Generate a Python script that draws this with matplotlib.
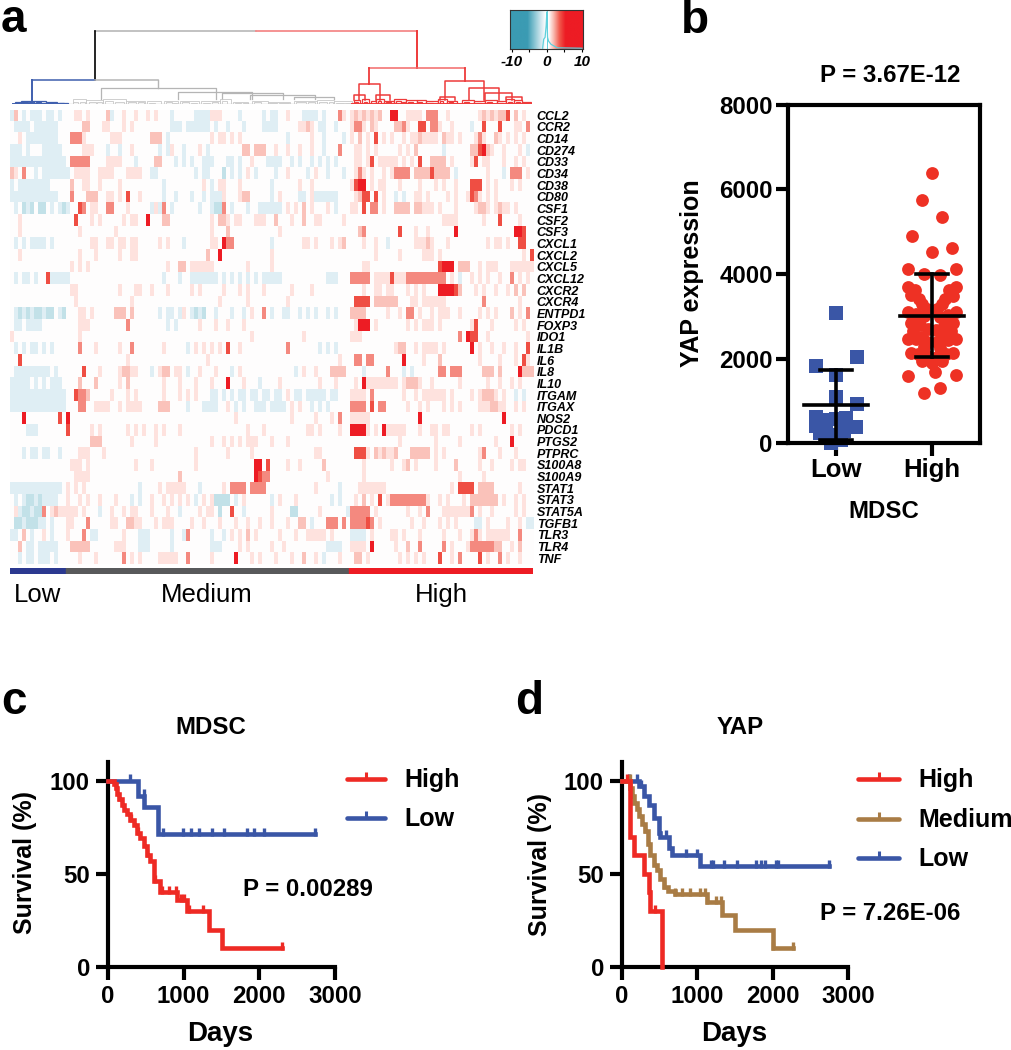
import matplotlib
matplotlib.use("Agg")
import matplotlib.pyplot as plt
import numpy as np
from matplotlib.colors import LinearSegmentedColormap

plt.rcParams['font.family'] = ['Liberation Sans', 'DejaVu Sans']

W, H = 1011, 1050

genes = ["CCL2", "CCR2", "CD14", "CD274", "CD33", "CD34", "CD38", "CD80", "CSF1", "CSF2", "CSF3",
         "CXCL1", "CXCL2", "CXCL5", "CXCL12", "CXCR2", "CXCR4", "ENTPD1", "FOXP3", "IDO1", "IL1B",
         "IL6", "IL8", "IL10", "ITGAM", "ITGAX", "NOS2", "PDCD1", "PTGS2", "PTPRC", "S100A8",
         "S100A9", "STAT1", "STAT3", "STAT5A", "TGFB1", "TLR3", "TLR4", "TNF"]

# heatmap rows, read by eye: low | medium | high columns
# . = 0, a b = blue levels, 1-5 = red levels
rows = [
 "a2.a.aaa.aa.a.|..11.1.... 2a..1..1.. 1.1...a... ..aaaa111. ...a.....a .aa..1...a aaa.a...31 .|12121212.. 55..1111.3 33..1..... ..12121224 .2.1..",
 ".aaaa.aaaaaa..|....22...1 1...1.1.. .......aaa .aaaaaa.a. .a...a.... aaaa.....1 121.aa..a. .|1331.21... .2231..44. 331..1.... a..4...4.. .11.3.1.",
 "..1.aaaaaaaa..|.3331..... .111...... .222.a.... ......1.11 .1.1...... .....a.... .1..a....a .|1.2.1.4.1. 1..1.11211 11.211.1.. .131..21.1 .1.1..",
 "aaa.a...aaaaa.|....111... a..a..1... ...a.a1..a ...1.a.... ....22.222 ..1..1..1. .1..a...3. .|.11.1.1... ..1.1.2... ...a...... 224521..1. ..1.a.",
 "aaaaaaaaaaaaaa|.33333.... 1111...a.. ..22...a.a .a..aaa... aa.a..1... aaaa..a.a. .a.a.a.a.. .|.11.14.111 11.1.1.4.. 2222.1.... 14.11...1. .1.1.",
 "21.3..a.aaaaaa|a.1111..11 11...1111. .aa....... ..a.aa...b .a.a.1.a.. ..a..1.... a.1..a...a .|.131.1..1. 13333.2222 42222.a... ....1...a. 333.1",
 "a.aaaaaaaa....|.2..11..1. ...1...... ....a..... ....1.a.11 ...1...... .a......1. .1........ .|1455.1.11. ..1....1.. .1.1..1... 444.1.1... 1.1...",
 "aaaaaaaaaaaa..|.3...222.. 11.1.4..1. ....a..a.. .a..a.aaa1 ...122.... .a.1....aa .1aaaaaa.. .|.1244.4.1.. a.a..11.1. ...1.1..14 31.1.1....",
 ".a.bab.bb.a.ab|a..43.11.. 33...1.... .a1a3.a... ...a..abb3 .a...a..aa aaaa.1.1.2 .1...1.a.. .|11.4.33.1. .2222.2211 1.1...1... .1221.1211 .1..",
 "..1...........|..4...1.1. ....1.11.. 5...22.... ......1.22 1.11...111 ..2...1..2 ..11.....1 .|.......... .......... ...1111... ...1...4.. ..1...",
 "..1...........|...1...... ..1....... .......... ......1... 2......... ...1...... .......... .|..23...... ..4...1..1 ......5... .......... .554..",
 ".a.a.aaaa.a...|......11.. 11.11.11.. ...1.1...a ......11.5 33........ .a.......1 1.1...1.12 .|...1..1..a ......1112 1...1..... ....1.11.1 ..44.",
 "..1...........|...1...1.. ...1..11.. .......... .....2..5. .......... .1........ .......... .|......1... ..1.....11 1.1....... .......... ...1.44",
 "..............|.1.1.1.... .......... .....1..22 .111111... .....1.... .1........ .......... .|...11..... .......... ..4555.222 ..1.111... 111111.",
 ".a.aa.a..4aaaa|a......... .......... ....a...a. .aaaaaaa.a .a.a.a.a.a aaaa...... .....aaa.. .|33333.1111 4111333333 3333.1.a.. 1.1.1..1.. 3.1.1",
 "..............|.11....... ...1...11. .1...1.... .1.1.....1 ...1.1...1 ......1... .1........ .|...1..11.1 1...1.1.1. ..555542.. .1.1..1..1 .2.2..",
 "..............|..1....... ......1... .......... ........1. .....1.... .....1.... .......... .|.4444.2222 22...11.11 1111...... ...3...... ..1...",
 ".abababbabb.ab|...11.1... ..222.2... ...a.aa.a1 .abab..a.. .a..a.1..3 .a..aa..a. a.a..a.a.. .|2222.....1 ..1.33.1.. 1.111..1.. ..1.1.1... 2.1.3",
 ".aa.aaaa......|...111.... .....3.... .....a.a.. ...1...1.. 1...1..... .......... .......... .|.1555.1... ....1.1.11 1.1....... 14...1.... .1.1..",
 "1.............|...1...... .......... .......... .......... ......1... .........1 .......... .|111....... .......... .......3.5 44..1..... ....1.",
 ".a.a.aa.a.a...|...3...1.. ...1..3... ....1..... a.1.1.1.1. 4..1...... .....3.... ...a.a.a.. .|.......... .122..1.11 11.1...... 5.1..1..1. .1..4.",
 "..4...........|.......... .....1.... .......... .....1.... .......... .......... ........1. .|.33.33.... ...5....1. ..2....... ..1....1.. .1.41.",
 ".aaaaaaaaa.a..|....4...1. ...12211.. .a.122.11. a..1...1.. .a.1...... .......a.1 ..1...2222 .|...a.....3 ...a.a.... ..33.333.. ...222.2.. ..5222.",
 "aaaaa.a.a.aaa.|...2...2.. ...1.2.... ....1...1. ..1...1... 5...1...a. ...1...... ...1...1.. .|.1.5111111 11.12221.. 1......1.. ....1..1.. 1.1.",
 "aaaaaaaaaaaaaa|..4332.... .1...1.1.. ....1...1. 1.1...aa.a .a.aa.aa.a a.aa.1.aa. aaaaa.aa.. .|1111.3.... ...1..1.11 1111.1.... 1.12221.1. .a.a..",
 "aaaaaaaaaaaaaa|...33..111 1..1.1111. ...222.... a...aaaa.. 1.a.a..aaa .aaaa.1.1. .a.a.a.... .|3333.4.33. ....1..1.1 ...1.1.1.. ..1112211. .1.1.",
 "...5........4.|5......... .......... .......... .......... ..1....... ......1... ..1...1.3. .|11111..... .......5.. .......... ........5. .....",
 "....aaa.......|4.....1.1. .....1.1.1 ..1.1...1. .......... .....1...1 .......... 11.1....1. .|55551.1.51 1111...1.. 11.11..... 1.1....... 1.1...",
 "..............|......222. ......1... ..1....... ......1..1 .1.1.111.. .1...1.... .......... .....4.333 .33.|.......... ..1....... .1.....1.. ......1...5. ...",
 "...a.aa.aa..a.|...111...1 .......... .......... ..1....... 1.....1... .......... ..11...... .|.4441.2121 12...22222 .1.1...... ..13...1.. .1....",
 "..............|.111.1.... .......1.. .1........ ..1....... .......55. 4....1..1. ....2..... .1.|...1...... 1..12.1... .1....2... ..1..1.... 1.11.",
 "..............|..1111.... .......... ........2. .......... .......543 3......... .....1.... .....1.. .222.|...1...... .......... .......1.. ...1...... ...",
 "aaaaaaaaaaaaa.|1.1.1..... ........a. ...1.11111 ...a.....1 .3333.3333 .......... ..1.....a. .|..1111111. .......... .....1.4 444.2222.. ....1.",
 ".a.abbabaaaa..|1..1.1..1. ..1...a.a. .1..1.1.1. 1.a.1.1bbb b.a.1..... .a.1...1.. ......a.a. .|.1.2.1.4.1 3333333331 ..1.1...1. 2222222.1. .1.1.",
 ".1abbabb3.1211|111.1...a. .1..1.11.. .1...1..a. ...1.11.b. .4..a..... .1....bb.. ...1...... aa.|33333.1... ....1..1.3 ...1111111 3.1..1.... .1.1.",
 ".bbabbbaa.a...|11...3.... .11..2211. ..1.111... .1..1...1. ..1..1..1. .1...1..22 .a...333.3 .|333343.1.. .....1..1. ..1.1.1... .aa.1....1 ..1.aa.",
 "aa.2.a..1.a...|1...3.aa.. ....1...aa a.....a..a 3.....a..a .1.1.2.1.. ...1...1.. 11111.1... .1.|aaaa.1.... 11.1...1.. ...1...1.. 131.111111 ..3.",
 "..2.aa.aaaaa..|.22222.... ..111...aa a.....a... ......aaa. ...1.1.... .1..1..... .....aaaa. .|1111.5.... .1..2..3.. ...3.1...1 33333322.. 1.2.",
 "..a.aa.aaa.a..|...1...1.. ....3.1.1. ...11111.. 3.....1... ..5...1.1. ..1...1..2 ..1.a...1. .|.22.1..... ..1.1.1.1. ..4..1.3.. ..4.1..3.1 ..1.",
]

level_values = {".": 0, "a": -1.5, "b": -3, "1": 1, "2": 2.2, "3": 4, "4": 6.5, "5": 10}
low_cols, med_cols, high_cols = 14, 71, 46

# dendrogram, x in column units of the crop, height above the leaves
root_x = [249, 1092]
root_h = 220
low_node = (83, 414, 72)
right_node = (966, 1217, 107)
grey_nodes = [(263, 565, 47), (466, 660, 37), (580, 740, 32), (655, 825, 27), (770, 875, 20)]
red_nodes = [(940, 993, 60), (925, 955, 27), (985, 1020, 27), (1165, 1267, 69), (1228, 1305, 47),
             (1270, 1340, 32), (1150, 1190, 22), (1325, 1365, 22)]
grey_leaves = [(190, 225, 15), (225, 270, 12), (270, 330, 15), (330, 380, 10), (385, 420, 8), (430, 465, 10),
               (470, 520, 9), (525, 575, 8), (575, 605, 14), (610, 650, 7), (660, 700, 9), (700, 760, 7),
               (770, 830, 10), (830, 875, 13), (875, 920, 8),
               (190, 205, 7), (210, 222, 5), (232, 250, 6), (255, 268, 5), (275, 295, 8), (300, 325, 7),
               (335, 355, 5), (360, 378, 6), (390, 405, 4), (435, 450, 6), (452, 462, 4), (475, 495, 5),
               (500, 515, 4), (530, 550, 4), (555, 570, 5), (580, 595, 8), (615, 630, 4), (635, 648, 3),
               (665, 682, 5), (705, 725, 4), (730, 755, 4), (775, 800, 5), (805, 825, 5), (835, 855, 7),
               (860, 872, 6), (880, 900, 4), (902, 918, 3)]
red_leaves = [(925, 942, 12), (948, 965, 14), (970, 985, 10), (985, 1005, 14), (1005, 1030, 10), (1030, 1062, 14),
              (1062, 1090, 12), (1090, 1115, 11), (1115, 1145, 8), (1145, 1170, 14), (1170, 1195, 10),
              (1210, 1240, 12), (1240, 1270, 9), (1270, 1300, 11), (1300, 1325, 9), (1325, 1345, 14),
              (1345, 1365, 12), (1365, 1390, 7),
              (928, 936, 6), (952, 960, 7), (990, 998, 8), (1010, 1022, 5), (1035, 1048, 8), (1052, 1060, 5),
              (1068, 1080, 6), (1095, 1105, 5), (1120, 1132, 4), (1150, 1160, 8), (1175, 1186, 5), (1215, 1228, 6),
              (1245, 1258, 4), (1275, 1288, 6), (1305, 1316, 4), (1330, 1340, 7), (1350, 1360, 6), (1370, 1382, 4)]
blue_leaves = [(40, 60, 7), (55, 90, 10), (90, 120, 8), (120, 150, 6), (150, 178, 4),
               (42, 50, 4), (60, 72, 6), (76, 86, 5), (95, 108, 5), (110, 118, 3), (125, 138, 4), (155, 168, 3)]

# panel b
low_offset = [0, .22, -.21, 0, 0, .22, -.21, -.1, .1, 0, -.21, -.1, .1, .21, -.17, 0, -.08, .05, -.05, .08]
low_values = [3080, 2040, 1820, 1600, 1090, 930, 610, 550, 590, 560, 400, 370, 420, 370, 230, 200, 170, 60, 10, 280]
high_offset = [0, -.1, .1, -.21, .21, 0, -.25, .25, -.08, .08, -.25, .25, -.18, .18, -.22, .22, -.14, .14, -.1, .1,
               -.05, .05, -.25, .25, -.17, .17, -.08, .08, -.22, .22, -.12, .12, -.04, .04, -.2, .2, -.1, .1,
               -.25, .25, -.17, .17, -.05, .05, -.08, .08, -.22, .22, -.15, .15, -.05, .05, -.1, .1, 0, .03,
               -.25, .25, -.08, .08]
high_values = [6380, 5760, 5360, 4890, 4620, 4520, 4120, 4120, 4000, 3980, 3700, 3700, 3620, 3620, 3500, 3480, 3400,
               3400, 3280, 3280, 3180, 3180, 3100, 3100, 3050, 3030, 3000, 2980, 2850, 2850, 2800, 2780, 2700, 2680,
               2650, 2650, 2520, 2520, 2470, 2470, 2450, 2430, 2400, 2380, 2280, 2260, 2130, 2130, 2100, 2100, 2060,
               2040, 1950, 1940, 1900, 1690, 1580, 1600, 1180, 1290]
low_stats = (900, 70, 1730)
high_stats = (3010, 2030, 4000)

# panel c
c_high_days = [0, 75, 100, 119, 150, 180, 210, 250, 290, 339, 383, 420, 470, 515, 560, 603, 612, 690, 910, 1043, 1329, 1505, 2296]
c_high_surv = [100, 98, 96, 93, 90, 87, 84, 82, 79, 76, 72, 69, 65, 60, 57, 54, 46, 40, 36, 30, 20, 10, 10]
c_high_cens = [100, 150, 300, 400, 520, 620, 720, 800, 900, 960, 1000, 1070, 1250, 2296]
c_low_days = [0, 392, 480, 655, 2736]
c_low_surv = [100, 92, 86, 71.5, 71.5]
c_low_cens = [295, 470, 727, 991, 1096, 1206, 1373, 1535, 1843, 1931, 2063, 2736]

# panel d
d_high_days = [0, 110, 154, 287, 353, 375, 529, 529]
d_high_surv = [100, 70, 60, 50, 40, 30, 0, 0]
d_high_cens = [60, 440]
d_med_days = [0, 110, 130, 155, 200, 230, 265, 300, 340, 370, 420, 470, 510, 560, 610, 700, 1130, 1325, 1500, 2005, 2270]
d_med_surv = [100, 96, 92, 88, 85, 81, 77, 73, 66, 60, 55, 52, 47, 43, 41, 39, 35, 28, 20, 10, 10]
d_med_cens = [100, 300, 420, 560, 700, 800, 900, 1030, 1100, 1130, 1250, 1320, 2005, 2270]
d_low_days = [0, 220, 290, 355, 420, 490, 510, 620, 660, 1040, 2745]
d_low_surv = [100, 97, 92, 87, 80, 72, 70, 64, 60, 54, 54]
d_low_cens = [90, 200, 250, 580, 850, 1000, 1180, 1210, 1360, 1530, 1780, 1840, 1900, 2050, 2070, 2745]

heat_cmap = LinearSegmentedColormap.from_list("heat", [
    (0.00, "#3b9bb3"), (0.10, "#3b9bb3"), (0.25, "#8cc6d4"), (0.35, "#c3e2e9"), (0.425, "#e0eff5"), (0.47, "#ffffff"),
    (0.50, "#ffffff"), (0.55, "#fee2de"), (0.61, "#fbc4bc"), (0.70, "#f58a80"), (0.825, "#f04f44"), (1.00, "#ed1c24")])
key_cmap = LinearSegmentedColormap.from_list("key", [
    (0.00, "#3b9bb3"), (0.24, "#3b9bb3"), (0.34, "#8cc6d4"), (0.44, "#dcedf3"), (0.49, "#ffffff"),
    (0.53, "#ffffff"), (0.60, "#f9b8ae"), (0.68, "#f1584c"), (0.76, "#ed1c24"), (1.00, "#ed1c24")])

RED = "#ee2a24"
BLUE = "#3a56a6"
BROWN = "#a97c45"


def add_ax(fig, left, top, right, bottom):
    return fig.add_axes([left / W, 1 - bottom / H, (right - left) / W, (bottom - top) / H])


def value_at(days, surv, t):
    i = np.searchsorted(days, t, side="right") - 1
    return np.array(surv)[i]


def survival_axes(ax):
    ax.set_xlim(0, 3000)
    ax.set_ylim(0, 110)
    ax.set_xticks([0, 1000, 2000, 3000])
    ax.set_yticks([0, 50, 100])
    ax.patch.set_alpha(0)
    for s in ["top", "right"]:
        ax.spines[s].set_visible(False)
    for s in ["left", "bottom"]:
        ax.spines[s].set_linewidth(3)
    ax.tick_params(width=3, length=9, labelsize=17.3, pad=4)
    for lab in ax.get_xticklabels() + ax.get_yticklabels():
        lab.set_fontweight("bold")


def km_curve(ax, days, surv, cens, color):
    ax.step(days, surv, where="post", color=color, lw=3.3, clip_on=False, solid_joinstyle="miter", zorder=3)
    ax.plot(cens, [value_at(days, surv, t) + 1.2 for t in cens], ls="", marker="|", ms=5.5, mew=2.4, color=color,
            clip_on=False, zorder=3)


fig = plt.figure(figsize=(W / 100, H / 100), dpi=100)

# a: heatmap
matrix = []
for row in rows:
    parts = row.replace(" ", "").split("|")
    text = parts[0].ljust(low_cols, ".")[:low_cols] + parts[1].ljust(med_cols, ".")[:med_cols] + parts[2].ljust(high_cols, ".")[:high_cols]
    matrix.append([level_values[ch] for ch in text])
matrix = np.array(matrix)

ax_heat = add_ax(fig, 10, 109.5, 534, 564)
ax_heat.imshow(matrix, cmap=heat_cmap, vmin=-10, vmax=10, aspect="auto", interpolation="nearest")
ax_heat.set_xticks([])
ax_heat.yaxis.tick_right()
ax_heat.set_yticks(range(len(genes)))
ax_heat.set_yticklabels(genes, fontsize=9, fontweight="bold", fontstyle="italic")
ax_heat.tick_params(axis="y", length=0, pad=2)
for s in ax_heat.spines.values():
    s.set_visible(False)

# a: group bar
ax_bar = add_ax(fig, 10, 568, 532, 573)
ax_bar.broken_barh([(0, low_cols)], (0, 1), color="#2b3990")
ax_bar.broken_barh([(low_cols, med_cols)], (0, 1), color="#58595b")
ax_bar.broken_barh([(low_cols + med_cols, high_cols)], (0, 1), color="#ed1c24")
ax_bar.set_xlim(0, low_cols + med_cols + high_cols)
ax_bar.set_ylim(0, 1)
ax_bar.axis("off")

# a: dendrogram
ax_den = add_ax(fig, 0, 28, 532, 104)
ax_den.set_xlim(0, 1392)
ax_den.set_ylim(0, 228)
ax_den.axis("off")


def u_shape(ax, x1, x2, h, color, lw):
    ax.plot([x1, x1, x2, x2], [0, h, h, 0], color=color, lw=lw, solid_joinstyle="miter")


GREY_D = "#b5b5b5"
RED_D = "#ee3a3a"
BLUE_D = "#3f5fae"
mid = sum(root_x) / 2
ax_den.plot([root_x[0], mid], [root_h, root_h], color="#bdbdbd", lw=1.3)
ax_den.plot([mid, root_x[1]], [root_h, root_h], color="#f58a8a", lw=1.3)
ax_den.plot([root_x[0], root_x[0]], [root_h, low_node[2]], color="black", lw=1.2)
ax_den.plot([root_x[1], root_x[1]], [root_h, right_node[2]], color=RED_D, lw=1.4)
ax_den.plot([low_node[0], root_x[0]], [low_node[2], low_node[2]], color=BLUE_D, lw=1.1)
ax_den.plot([root_x[0], low_node[1]], [low_node[2], low_node[2]], color=GREY_D, lw=1.1)
ax_den.plot([low_node[0], low_node[0]], [low_node[2], 8], color=BLUE_D, lw=1.4)
ax_den.plot([low_node[1], low_node[1]], [low_node[2], grey_nodes[0][2]], color=GREY_D, lw=1)
ax_den.plot([right_node[0], right_node[1]], [right_node[2], right_node[2]], color="#f26a6a", lw=1.1)
ax_den.plot([right_node[0], right_node[0]], [right_node[2], red_nodes[0][2]], color=RED_D, lw=1.3)
ax_den.plot([right_node[1], right_node[1]], [right_node[2], red_nodes[3][2]], color=RED_D, lw=1.3)

for x1, x2, h in grey_nodes:
    ax_den.plot([x1, x1, x2, x2], [15, h, h, 15], color=GREY_D, lw=0.9)
for x1, x2, h in red_nodes:
    ax_den.plot([x1, x1, x2, x2], [12, h, h, 12], color=RED_D, lw=1.1)
for x1, x2, h in grey_leaves:
    u_shape(ax_den, x1, x2, h, "#c8c8c8", 0.6)
for x1, x2, h in red_leaves:
    u_shape(ax_den, x1, x2, h, RED_D, 0.9)
for x1, x2, h in blue_leaves:
    u_shape(ax_den, x1, x2, h, BLUE_D, 0.9)
ax_den.plot([35, 178], [0, 0], color=BLUE_D, lw=1.4)
ax_den.plot([180, 920], [0, 0], color="#c8c8c8", lw=1)
ax_den.plot([922, 1390], [0, 0], color=RED_D, lw=1.4)

# a: colour key
key_ticks = [-10, 0, 10]
hist_x = [-1.2, -0.9, -0.5, -0.2, 0, 0.2, 0.5, 1.2, 3, 10]
hist_y = [0.02, 0.25, 0.3, 0.6, 0.95, 0.3, 0.2, 0.12, 0.03, 0.02]
ax_key = add_ax(fig, 510, 10, 583, 49)
ax_key.imshow(np.linspace(-10, 10, 256)[None, :], cmap=key_cmap, vmin=-10, vmax=10, aspect="auto", extent=[-10.5, 10.3, 0, 1])
ax_key.plot(hist_x, hist_y, color="#5fd0dc", lw=0.9)
ax_key.plot([0, 0], [0, 1], color="#5fd0dc", lw=0.7)
ax_key.set_xlim(-10.5, 10.3)
ax_key.set_ylim(0, 1)
ax_key.set_xticks(key_ticks)
ax_key.set_xticks([-5, 5], minor=True)
ax_key.set_yticks([])
ax_key.set_xticklabels([str(t) for t in key_ticks], fontsize=11, fontweight="bold", fontstyle="italic")
ax_key.tick_params(axis="x", which="both", length=2.5, width=0.8, pad=2)
for s in ax_key.spines.values():
    s.set_linewidth(0.8)
    s.set_color("#333333")

# b: scatter
ax_b = add_ax(fig, 788, 105, 980, 443)
ax_b.scatter(1 + np.array(low_offset), low_values, marker="s", s=92, color=BLUE, linewidths=0, clip_on=False, zorder=2)
ax_b.scatter(2 + np.array(high_offset), high_values, marker="o", s=85, color="#ee3124", linewidths=0, zorder=2)
for pos, stats in zip([1, 2], [low_stats, high_stats]):
    mean, lo, hi = stats
    ax_b.plot([pos, pos], [lo, hi], color="black", lw=2.6, zorder=4)
    ax_b.plot([pos - .33, pos + .33], [mean, mean], color="black", lw=2.6, zorder=4)
    ax_b.plot([pos - .17, pos + .17], [lo, lo], color="black", lw=2.6, zorder=4)
    ax_b.plot([pos - .17, pos + .17], [hi, hi], color="black", lw=2.6, zorder=4)
ax_b.set_xlim(0.5, 2.5)
ax_b.set_ylim(0, 8000)
ax_b.set_xticks([1, 2])
ax_b.set_xticklabels(["Low", "High"], fontsize=18.5, fontweight="bold")
ax_b.set_yticks([0, 2000, 4000, 6000, 8000])
ax_b.set_yticklabels(["0", "2000", "4000", "6000", "8000"], fontsize=17.3, fontweight="bold")
ax_b.tick_params(width=3, length=9, pad=2)
for s in ax_b.spines.values():
    s.set_linewidth(3)

# c
ax_c = add_ax(fig, 108, 762, 335, 967)
survival_axes(ax_c)
km_curve(ax_c, c_low_days, c_low_surv, c_low_cens, BLUE)
km_curve(ax_c, c_high_days, c_high_surv, c_high_cens, RED)

# d
ax_d = add_ax(fig, 622, 762, 848, 967)
survival_axes(ax_d)
km_curve(ax_d, d_low_days, d_low_surv, d_low_cens, BLUE)
km_curve(ax_d, d_med_days, d_med_surv, d_med_cens, BROWN)
km_curve(ax_d, d_high_days, d_high_surv, d_high_cens, RED)

# page overlay for free text and legend keys, in pixels
page = fig.add_axes([0, 0, 1, 1], zorder=10)
page.set_xlim(0, W)
page.set_ylim(H, 0)
page.axis("off")

for letter, x, y in [("a", 1, 32), ("b", 681, 33), ("c", 1, 714), ("d", 515, 714)]:
    page.text(x, y, letter, fontsize=33, fontweight="bold", ha="left", va="baseline")
for label, x in [("Low", 38), ("Medium", 207), ("High", 441)]:
    page.text(x, 595, label, fontsize=18.5, ha="center", va="center")

bold = dict(fontsize=17.3, fontweight="bold", va="center")
page.text(890, 75, "P = 3.67E-12", ha="center", **bold)
page.text(692, 273, "YAP expression", ha="center", rotation=90, fontsize=18, fontweight="bold", va="center")
page.text(884, 512, "MDSC", ha="center", **bold)
page.text(211, 727, "MDSC", ha="center", **bold)
page.text(220, 1034, "Days", ha="center", fontsize=20, fontweight="bold", va="center")
page.text(25, 862, "Survival (%)", ha="center", rotation=90, fontsize=18, fontweight="bold", va="center")
page.text(243, 890, "P = 0.00289", ha="left", **bold)
page.text(740, 727, "YAP", ha="center", **bold)
page.text(734, 1034, "Days", ha="center", fontsize=20, fontweight="bold", va="center")
page.text(540, 865, "Survival (%)", ha="center", rotation=90, fontsize=18, fontweight="bold", va="center")
page.text(820, 913, "P = 7.26E-06", ha="left", **bold)


def legend_key(x1, x2, y, color, label, tx):
    page.plot([x1, x2], [y, y], color=color, lw=3.3, solid_capstyle="round")
    page.plot([(x1 + x2) / 2], [y - 3], ls="", marker="|", ms=5.5, mew=2.2, color=color)
    page.text(tx, y + 1, label, fontsize=18, fontweight="bold", va="center", clip_on=True)


legend_key(347, 385, 779, RED, "High", 404)
legend_key(347, 385, 818, BLUE, "Low", 404)
legend_key(858, 899, 779, RED, "High", 918)
legend_key(858, 899, 819, BROWN, "Medium", 918)
legend_key(858, 899, 858, BLUE, "Low", 918)

fig.savefig("out.png", dpi=100)
